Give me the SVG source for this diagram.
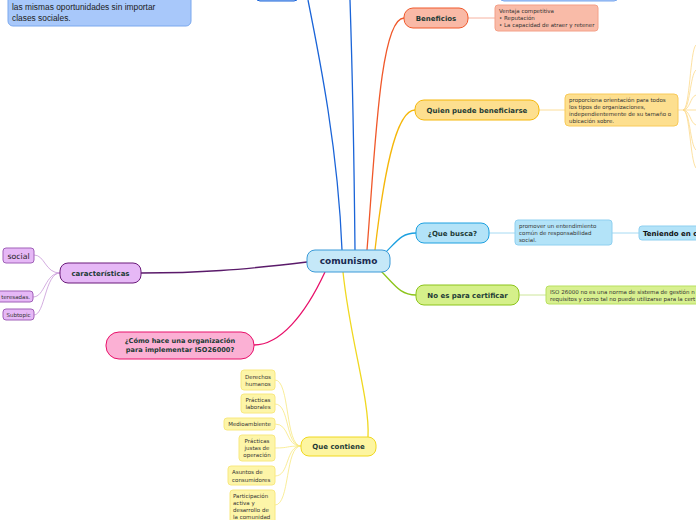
<svg xmlns="http://www.w3.org/2000/svg" width="696" height="520" viewBox="0 0 696 520">
<style>
.t{font-family:"DejaVu Sans",Verdana,sans-serif;fill:#1d3b36}
.b{font-weight:bold;font-size:7px}
.s{font-size:5.5px;fill:#333}
.c{fill:none}
</style>
<rect width="696" height="520" fill="#ffffff"/>
<g id="connectors" class="c">
<path d="M342,250 C338,150 320,60 308,0" stroke="#1a64d8" stroke-width="1.3"/>
<path d="M355,250 C354,150 352,60 350,0" stroke="#1a64d8" stroke-width="1.3"/>
<path d="M367,250 C375,150 380,18 404,18" stroke="#f0582a" stroke-width="1.3"/>
<path d="M375,250 C383,180 395,110 415,110" stroke="#f5b70a" stroke-width="1.3"/>
<path d="M385,253 C398,240 402,233 416,233" stroke="#1ca0e0" stroke-width="1.3"/>
<path d="M380,270 C395,285 400,295 416,295" stroke="#8cc41a" stroke-width="1.3"/>
<path d="M307,262 C240,270 200,273 141,273" stroke="#5a1a6a" stroke-width="1.3"/>
<path d="M325,272 C305,315 280,345 254,345" stroke="#e8106a" stroke-width="1.3"/>
<path d="M343,272 C350,340 370,400 368,437" stroke="#f0d820" stroke-width="1.3"/>
<path d="M468,18 L495,18" stroke="#f4a088" stroke-width="0.8"/>
<path d="M539,110 L565,110" stroke="#fbd680" stroke-width="0.8"/>
<path d="M489,233 L515,233" stroke="#8fd0f0" stroke-width="0.8"/>
<path d="M612,233 L639,233" stroke="#8fd0f0" stroke-width="0.8"/>
<path d="M519,295 L546,295" stroke="#c0e080" stroke-width="0.8"/>
<g stroke="#fcd98a" stroke-width="0.8">
<path d="M678,110 L683,110"/>
<path d="M683,110 C690,110 690,50 696,45"/>
<path d="M683,110 C690,110 690,75 696,70"/>
<path d="M683,110 C690,110 690,97 696,95"/>
<path d="M683,110 L696,110"/>
<path d="M683,110 C690,110 690,123 696,125"/>
<path d="M683,110 C690,110 690,145 696,150"/>
<path d="M683,110 C690,110 690,160 696,168"/>
</g>
<g stroke="#c898d8" stroke-width="0.8">
<path d="M60,273 C45,273 45,255 34,255"/>
<path d="M60,273 C45,273 45,297 33,297"/>
<path d="M60,273 C45,273 45,315 34,315"/>
</g>
<g stroke="#f8e880" stroke-width="0.8">
<path d="M301,446 C285,446 290,380 275,380"/>
<path d="M301,446 C285,446 290,404 275,404"/>
<path d="M301,446 C285,446 290,424 275,424"/>
<path d="M301,446 C285,446 290,448 275,448"/>
<path d="M301,446 C285,446 290,476 275,476"/>
<path d="M301,446 C285,446 290,505 275,505"/>
</g>
</g>
<g id="topnote">
<rect x="8" y="-12" width="183" height="38" rx="5" fill="#a8c8fa" stroke="#7aa8ee"/>
<text x="12" y="10" font-family="Liberation Sans,Arial,sans-serif" font-size="8.4" fill="#222">las mismas oportunidades sin importar</text>
<text x="12" y="21" font-family="Liberation Sans,Arial,sans-serif" font-size="8.4" fill="#222">clases sociales.</text>
</g>
<g id="topbox1"><rect x="256" y="-12" width="42" height="13" rx="4" fill="#a8c8fa" stroke="#1a64d8"/></g>
<g id="topbox2"><rect x="500" y="-12" width="118" height="13" rx="4" fill="#a8c8fa" stroke="#7aa8ee"/></g>
<g id="center">
<rect x="307" y="250" width="83" height="22" rx="8" fill="#c5e8f8" stroke="#3a9ad8"/>
<text class="t" x="348.5" y="264.2" font-size="9" font-weight="bold" text-anchor="middle" style="fill:#1a2a50">comunismo</text>
</g>
<g id="beneficios">
<rect x="404" y="8" width="64" height="20" rx="9" fill="#f9b9a6" stroke="#f0582a"/>
<text class="t b" x="436" y="20.5" text-anchor="middle">Beneficios</text>
</g>
<g id="beneficios-detail">
<rect x="495" y="5" width="103" height="26" rx="3" fill="#f9bba8" stroke="#f4a088"/>
<text class="t s" x="499" y="13">Ventaja competitiva</text>
<text class="t s" x="499" y="20">• Reputación</text>
<text class="t s" x="499" y="27">• La capacidad de atraer y retener</text>
</g>
<g id="quien">
<rect x="415" y="100" width="124" height="20" rx="9" fill="#fddf8f" stroke="#f5b70a"/>
<text class="t b" x="477" y="112.5" text-anchor="middle">Quien puede beneficiarse</text>
</g>
<g id="quien-detail">
<rect x="565" y="94" width="113" height="32" rx="4" fill="#fddf8f" stroke="#f8ca5a"/>
<text class="t s" x="569" y="102">proporciona orientación para todos</text>
<text class="t s" x="569" y="109">los tipos de organizaciones,</text>
<text class="t s" x="569" y="116">independientemente de su tamaño o</text>
<text class="t s" x="569" y="123">ubicación sobre.</text>
</g>
<g id="busca">
<rect x="416" y="223" width="73" height="20" rx="8" fill="#b3e3f8" stroke="#1ca0e0"/>
<text class="t b" x="452.5" y="235.5" text-anchor="middle">¿Que busca?</text>
</g>
<g id="busca-detail">
<rect x="515" y="220" width="97" height="25" rx="3" fill="#b3e3f8" stroke="#8fd0f0"/>
<text class="t s" x="519" y="228">promover un entendimiento</text>
<text class="t s" x="519" y="235">común de responsabilidad</text>
<text class="t s" x="519" y="242">social.</text>
</g>
<g id="teniendo">
<rect x="639" y="226" width="70" height="14" rx="3" fill="#b3e3f8" stroke="#8fd0f0"/>
<text class="t b" x="643" y="235.5" style="fill:#111">Teniendo en c</text>
</g>
<g id="certificar">
<rect x="416" y="285" width="103" height="20" rx="8" fill="#d5f08a" stroke="#8cc41a"/>
<text class="t b" x="467.5" y="297.5" text-anchor="middle">No es para certificar</text>
</g>
<g id="certificar-detail">
<rect x="546" y="286" width="170" height="18" rx="3" fill="#d8f090" stroke="#b8e060"/>
<text class="t s" x="550" y="294">ISO 26000 no es una norma de sistema de gestión n</text>
<text class="t s" x="550" y="301">requisitos y como tal no puede utilizarse para la cert</text>
</g>
<g id="caracteristicas">
<rect x="60" y="263" width="81" height="20" rx="8" fill="#e6b8f6" stroke="#6a1a7a"/>
<text class="t b" x="100.5" y="275.5" text-anchor="middle">características</text>
</g>
<g id="social">
<rect x="3" y="248" width="31" height="15" rx="3" fill="#e6b8f6" stroke="#a060b8"/>
<text class="t" x="18.5" y="258.5" font-size="7.8" text-anchor="middle" style="fill:#222">social</text>
</g>
<g id="interesadas">
<rect x="-10" y="291" width="43" height="11" rx="3" fill="#e6b8f6" stroke="#a060b8"/>
<text class="t s" x="30" y="298.5" text-anchor="end">teresadas.</text>
</g>
<g id="subtopic">
<rect x="3" y="309" width="31" height="11" rx="3" fill="#e6b8f6" stroke="#a060b8"/>
<text class="t s" x="18.5" y="316.5" text-anchor="middle">Subtopic</text>
</g>
<g id="como">
<rect x="106" y="332" width="148" height="27" rx="13" fill="#fbb0d4" stroke="#e8106a"/>
<text class="t" x="180" y="343" font-size="6.6" font-weight="bold" text-anchor="middle">¿Cómo hace una organización</text>
<text class="t" x="180" y="352" font-size="6.6" font-weight="bold" text-anchor="middle">para implementar ISO26000?</text>
</g>
<g id="contiene">
<rect x="301" y="437" width="75" height="19" rx="8" fill="#fdf5a0" stroke="#f0d820"/>
<text class="t b" x="338.5" y="449" text-anchor="middle">Que contiene</text>
</g>
<g id="derechos">
<rect x="241" y="370" width="34" height="20" rx="3" fill="#fdf5a8" stroke="#f8e880"/>
<text class="t s" x="258" y="378.5" text-anchor="middle">Derechos</text>
<text class="t s" x="258" y="385.5" text-anchor="middle">humanos</text>
</g>
<g id="laborales">
<rect x="241" y="394" width="34" height="19" rx="3" fill="#fdf5a8" stroke="#f8e880"/>
<text class="t s" x="258" y="402" text-anchor="middle">Prácticas</text>
<text class="t s" x="258" y="409" text-anchor="middle">laborales</text>
</g>
<g id="medioambiente">
<rect x="224" y="418" width="51" height="12" rx="3" fill="#fdf5a8" stroke="#f8e880"/>
<text class="t s" x="249.5" y="426" text-anchor="middle">Medioambiente</text>
</g>
<g id="justas">
<rect x="239" y="435" width="36" height="26" rx="3" fill="#fdf5a8" stroke="#f8e880"/>
<text class="t s" x="257" y="443" text-anchor="middle">Prácticas</text>
<text class="t s" x="257" y="450" text-anchor="middle">justas de</text>
<text class="t s" x="257" y="457" text-anchor="middle">operación</text>
</g>
<g id="consumidores">
<rect x="228" y="466" width="47" height="19" rx="3" fill="#fdf5a8" stroke="#f8e880"/>
<text class="t s" x="232" y="474">Asuntos de</text>
<text class="t s" x="232" y="481.5">consumidores</text>
</g>
<g id="participacion">
<rect x="230" y="490" width="45" height="34" rx="3" fill="#fdf5a8" stroke="#f8e880"/>
<text class="t s" x="233" y="498">Participación</text>
<text class="t s" x="233" y="505">activa y</text>
<text class="t s" x="233" y="512">desarrollo de</text>
<text class="t s" x="233" y="519">la comunidad</text>
</g>
</svg>
